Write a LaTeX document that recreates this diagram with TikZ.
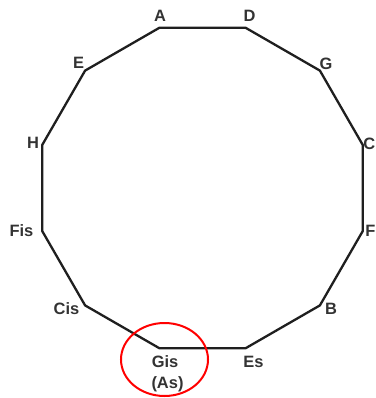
\documentclass[tikz,border=0pt]{standalone}
\usepackage{fontspec}
\setmainfont{Liberation Sans}
\begin{document}
\begin{tikzpicture}[x=1bp,y=-1bp,
  edge/.style={draw=black!88,line width=2.3bp,line join=round},
  lbl/.style={inner sep=0pt,anchor=base,text=black!80,font=\fontsize{16.5}{21}\selectfont\bfseries}]
\useasboundingbox (0,0) rectangle (376,398);
\coordinate (A) at (159.5,27.7);
\coordinate (D) at (245.5,27.7);
\coordinate (G) at (319.9,70.6);
\coordinate (C) at (362.8,145.0);
\coordinate (F) at (362.8,231.0);
\coordinate (B) at (319.9,305.4);
\coordinate (Es) at (245.5,348.3);
\coordinate (Gis) at (159.5,348.3);
\coordinate (Cis) at (85.1,305.4);
\coordinate (Fis) at (42.2,231.0);
\coordinate (H) at (42.2,145.0);
\coordinate (E) at (85.1,70.6);
\draw[edge] (A) -- (D) -- (G) -- (C) -- (F) -- (B) -- (Es) -- (Gis) -- (Cis) -- (Fis) -- (H) -- (E) -- cycle;
\node[lbl] (lA) at (160,21) {A};
\node[lbl] (lD) at (249.5,21) {D};
\node[lbl] (lG) at (326,69) {G};
\node[lbl,anchor=base east] (lC) at (375.5,149) {C};
\node[lbl,anchor=base east] (lF) at (375.5,236) {F};
\node[lbl] (lB) at (331,314) {B};
\node[lbl] (lEs) at (253.5,367) {Es};
\node[lbl] (lGis) at (165,367) {Gis};
\node[lbl] (lAs) at (167.5,388) {(As)};
\node[lbl] (lCis) at (66.5,314) {Cis};
\node[lbl] (lFis) at (21.5,236) {Fis};
\node[lbl] (lH) at (33,148) {H};
\node[lbl] (lE) at (78.5,68) {E};
\draw[red,line width=2bp] (164.5,359.5) ellipse [x radius=43.5, y radius=36.5];
\end{tikzpicture}
\end{document}
